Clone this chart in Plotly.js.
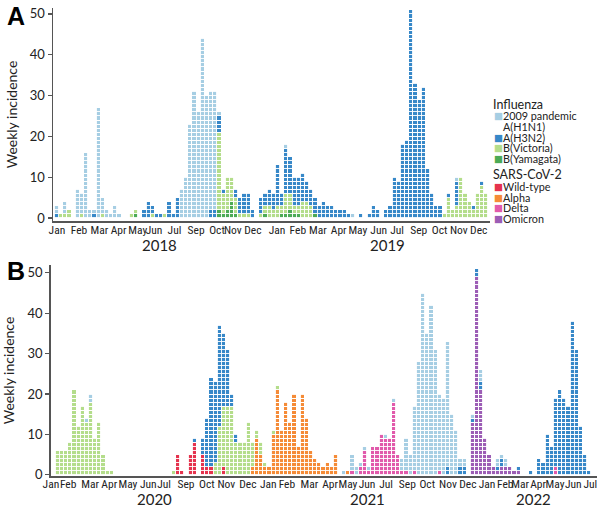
<!DOCTYPE html>
<html><head><meta charset="utf-8">
<script src="https://cdn.plot.ly/plotly-3.0.1.min.js"></script>
<style>html,body{margin:0;padding:0;background:#fff}#chart{width:600px;height:511px}</style>
</head><body><div id="chart"></div>
<script>
// ---------- Panel A: weekly counts, week 0 = first week of Jan 2018 (104 weeks) ----------
const aH1N1 = [2,0,3,0,0,7,5,16,2,1, 27,4,2,1,3,1,0,0,0,0, 0,0,0,0,0,0,0,0,0,0, 7,10,23,31,26,44,30,29,29,1,
  0,0,0,0,0,0,0,0,0,0, 0,0,0,0,0,1,0,0,0,0, 0,0,0,0,0,0,0,0,0,0, 0,1,0,0,0,0,0,0,0,0,
  0,0,0,0,0,0,0,0,0,0, 0,0,0,0,0,0,1,0,0,0, 0,0,0,0];
const aH3N2 = [1,0,0,0,0,0,0,0,0,1, 0,0,0,0,0,0,0,0,0,0, 0,2,4,2,1,1,0,4,1,5, 0,0,0,0,0,0,0,2,2,4,
  1,0,0,2,4,5,5,2,0,4, 3,4,4,10,3,11,9,7,7,7, 5,4,4,3,4,3,3,2,2,2, 1,0,0,1,0,1,3,2,0,2,
  3,10,9,18,19,51,33,29,32,12, 6,3,3,0,1,0,6,0,0,0, 1,0,1,0];
const aVictoria = [0,1,1,2,0,0,1,0,0,0, 0,1,0,0,0,0,0,0,1,1, 0,0,0,1,0,0,1,0,0,0, 0,0,0,0,0,0,0,0,0,19,
  5,8,6,4,1,1,1,0,0,1, 2,3,2,3,2,5,4,2,2,4, 4,3,0,0,0,0,0,0,0,0, 0,0,0,0,0,0,0,0,0,0,
  0,0,0,0,0,0,0,0,0,0, 0,0,0,1,5,2,3,10,6,4, 2,6,8,6];
const aYamagata = [0,0,0,0,0,0,0,0,0,0, 0,0,0,0,0,0,0,0,0,1, 0,0,0,0,0,0,0,0,0,0, 0,0,0,0,0,0,0,0,0,2,
  1,2,4,1,0,0,0,0,0,0, 1,0,0,0,1,1,2,1,1,0, 0,0,1,0,0,0,0,0,0,0, 0,0,0,0,0,0,0,0,0,0,
  0,0,0,0,0,0,0,0,0,0, 0,0,0,0,0,0,0,0,0,0, 0,0,0,0];

// ---------- Panel B: weekly counts, week 0 = first week of Jan 2020 (131 weeks) ----------
const Z10 = [0,0,0,0,0,0,0,0,0,0];
const bH1N1 = [0,0,0,0,0,0,0,0,0,1, 2,0,0,0,0,0,0,0,0,0, ...Z10, ...Z10, ...Z10, ...Z10, ...Z10,
  0,1,0,4,2,1,1,1,0,0, 0,1,0,1,0,3,8,5,16,28, 45,35,42,31,19,19,31,15,11,2,
  2,0,1,0,3,0,0,0,2,1, 2,0,0,0,0,0,0,0,0,0, 0,0,0,0,0,0,0,0,0,0,0];
const bH3N2 = [...Z10, ...Z10, ...Z10, 0,0,0,0,0,1,0,4,12,22, 20,25,18,14,3,2,0,0,0,0,
  ...Z10, ...Z10, ...Z10, ...Z10, 0,0,0,0,0,0,2,0,0,2,
  2,0,1,2,2,0,0,0,1,2, 0,0,0,1,0,0,1,0,4,3, 10,7,17,21,19,17,38,31,12,5,1];
const bVictoria = [0,0,6,6,6,8,21,12,17,13, 18,9,13,5,1,1,0,0,0,0, ...Z10, 1,0,0,0,0,0,0,0,0,0,
  3,12,15,17,17,8,8,8,13,6, 2,3,1,0,1,1,0,0,0,0, ...Z10, ...Z10, ...Z10, ...Z10, ...Z10, ...Z10, ...Z10, 0];
const bWildType = [...Z10, ...Z10, ...Z10, 0,5,1,0,5,8,0,5,2,2, 0,0,2,0,0,0,0,0,0,0,
  ...Z10, ...Z10, ...Z10, ...Z10, ...Z10, ...Z10, ...Z10, ...Z10, 0];
const bAlpha = [...Z10, ...Z10, ...Z10, ...Z10, 0,0,0,0,0,0,0,0,0,2,
  9,5,2,2,10,21,11,18,13,20, 7,20,14,6,4,3,2,3,2,5, 0,0,1,0,0,0,0,0,0,0,
  ...Z10, ...Z10, ...Z10, ...Z10, ...Z10, 0];
const bDelta = [...Z10, ...Z10, ...Z10, ...Z10, ...Z10, ...Z10, ...Z10,
  0,0,0,1,0,2,6,1,7,7, 10,9,9,18,5,1,1,0,1,0, 0,0,0,0,1,0,0,0,0,0,
  ...Z10, ...Z10, 0,0,2,0,0,0,0,0,0,0, 0];
const bOmicron = [...Z10, ...Z10, ...Z10, ...Z10, ...Z10, ...Z10, ...Z10, ...Z10, ...Z10, ...Z10,
  0,0,13,49,21,9,5,2,1,2, 2,2,1,1,0,0,0,0,0,0, ...Z10, 0];

// ---------- Tick labels ----------
const monthLabelsA = ['Jan','Feb','Mar','Apr','May','Jun','Jul','Sep','Oct','Nov','Dec',
  'Jan','Feb','Mar','Apr','May','Jun','Jul','Sep','Oct','Nov','Dec'];
const monthWeeksA = [0.1,5.4,10.3,14.9,19.5,23.4,28.3,33.5,38.5,42.3,47.1,
  52.9,57.9,62.7,67.7,72.3,77.3,81.7,86.9,91.9,96.5,101.3];
const monthLabelsB = ['Jan','Feb','Mar','Apr','May','Jun','Jul','Sep','Oct','Nov','Dec',
  'Jan','Feb','Mar','Apr','May','Jun','Jul','Sep','Oct','Nov','Dec',
  'Jan','Feb','Mar','Apr','May','Jun','Jul'];
const monthWeeksB = [0.45,4.6,9.9,14.5,19.0,23.9,27.7,33.0,38.0,42.7,47.9,
  52.8,57.3,62.7,67.7,72.0,76.6,81.2,86.3,91.1,96.1,100.9,
  105.5,109.9,113.5,117.8,121.9,126.3,130.4];
const yearsA = ['2018','2019'];
const yearWeeksA = [24.8,79.3];
const yearsB = ['2020','2021','2022'];
const yearWeeksB = [25.5,76.6,116.6];

// ---------- Styles ----------
const COL = {
  h1:'#a6cee3', h3:'#3788c8', vic:'#b4dd8b', yam:'#4caa55',
  wt:'#e5334e', alpha:'#f58b37', delta:'#e15aab', omi:'#9c5db5'
};

function expand(counts){
  const x=[], y=[];
  counts.forEach((n,i)=>{ for(let k=0;k<n;k++){ x.push(i); y.push(1);} });
  return {x,y};
}
function unitTrace(counts, color, xa, ya){
  const e = expand(counts);
  return {type:'bar', x:e.x, y:e.y, xaxis:xa, yaxis:ya, width:1,
    marker:{color:color, line:{color:'#ffffff', width:0.9}},
    hoverinfo:'skip', showlegend:false};
}

// stacking order bottom -> top
const traces = [
  unitTrace(aYamagata, COL.yam, 'x','y'),
  unitTrace(aVictoria, COL.vic, 'x','y'),
  unitTrace(aH3N2, COL.h3, 'x','y'),
  unitTrace(aH1N1, COL.h1, 'x','y'),
  unitTrace(bWildType, COL.wt, 'x2','y2'),
  unitTrace(bAlpha, COL.alpha, 'x2','y2'),
  unitTrace(bDelta, COL.delta, 'x2','y2'),
  unitTrace(bOmicron, COL.omi, 'x2','y2'),
  unitTrace(bVictoria, COL.vic, 'x2','y2'),
  unitTrace(bH3N2, COL.h3, 'x2','y2'),
  unitTrace(bH1N1, COL.h1, 'x2','y2')
];

const W=600, H=511;
const px = v => v/W, py = v => 1 - v/H;
const axisCol = '#555555';
const FONT = 'Lato, "Open Sans", "DejaVu Sans", sans-serif';
const NARROW = '"Liberation Sans Narrow", "Roboto Condensed", Lato, sans-serif';

function xAxis(dom, rng, tv, tt, anchor, standoff){
  return {domain:dom, range:rng, anchor:anchor, showgrid:false, zeroline:false,
    showline:true, linecolor:axisCol, linewidth:1.5, ticks:'', tickvals:tv, ticktext:tt,
    ticklabelstandoff:standoff,
    tickangle:0, tickfont:{family:NARROW, size:11.5, color:'#222'}, fixedrange:true};
}
function yAxis(dom, rng, anchor){
  return {domain:dom, range:rng, anchor:anchor, showgrid:false, zeroline:false,
    showline:true, linecolor:axisCol, linewidth:1.5, ticks:'outside', ticklen:4, tickwidth:1.2,
    tickcolor:axisCol, tickvals:[0,10,20,30,40,50], tickfont:{size:13, color:'#222'},
    title:{text:'Weekly incidence', font:{size:14, color:'#222'}, standoff:9}, fixedrange:true};
}

const annotations = [];
annotations.push({text:'<b>A</b>', xref:'paper', yref:'paper', x:px(16), y:py(16), xanchor:'center', yanchor:'middle',
  showarrow:false, font:{family:'"Liberation Sans", Arial, sans-serif', size:25, color:'#000'}});
annotations.push({text:'<b>B</b>', xref:'paper', yref:'paper', x:px(16), y:py(271), xanchor:'center', yanchor:'middle',
  showarrow:false, font:{family:'"Liberation Sans", Arial, sans-serif', size:25, color:'#000'}});
yearsA.forEach((t,i)=>annotations.push({text:t, xref:'x', yref:'paper', x:yearWeeksA[i], y:py(245),
  xanchor:'center', yanchor:'middle', showarrow:false, font:{size:15, color:'#222'}}));
yearsB.forEach((t,i)=>annotations.push({text:t, xref:'x2', yref:'paper', x:yearWeeksB[i], y:py(499),
  xanchor:'center', yanchor:'middle', showarrow:false, font:{size:15, color:'#222'}}));

// legend (custom, compact)
const legendRows = [
  {t:'Influenza', head:true},
  {t:'2009 pandemic', c:COL.h1},
  {t:'A(H1N1)'},
  {t:'A(H3N2)', c:COL.h3},
  {t:'B(Victoria)', c:COL.vic},
  {t:'B(Yamagata)', c:COL.yam},
  {t:'SARS-CoV-2', head:true, gap:true},
  {t:'Wild-type', c:COL.wt},
  {t:'Alpha', c:COL.alpha},
  {t:'Delta', c:COL.delta},
  {t:'Omicron', c:COL.omi}
];
let ly = 104;
legendRows.forEach((r,i)=>{
  if(i>0) ly += r.gap ? 16 : (legendRows[i-1].head ? 11.5 : 10.8);
  if(r.head){
    annotations.push({text:r.t, xref:'paper', yref:'paper', x:px(492), y:py(ly), xanchor:'left', yanchor:'middle',
      showarrow:false, borderpad:0, font:{size:12.5, color:'#222'}});
  } else {
    if(r.c) annotations.push({text:'■', xref:'paper', yref:'paper', x:px(493), y:py(ly), xanchor:'left', yanchor:'middle',
      showarrow:false, borderpad:0, font:{family:'"DejaVu Sans", sans-serif', size:9.5, color:r.c}});
    annotations.push({text:r.t, xref:'paper', yref:'paper', x:px(502), y:py(ly), xanchor:'left', yanchor:'middle',
      showarrow:false, borderpad:0, font:{size:10.8, color:'#222'}});
  }
});

const layout = {
  width:W, height:H, margin:{l:0,r:0,t:0,b:0}, paper_bgcolor:'#fff', plot_bgcolor:'#fff',
  barmode:'stack', bargap:0, showlegend:false,
  font:{family:FONT, color:'#222'},
  xaxis: xAxis([px(53), px(490)], [-0.84, 104.0], monthWeeksA, monthLabelsA, 'y', -2),
  yaxis: yAxis([py(221), py(8)], [-0.75, 51.45], 'x'),
  xaxis2: xAxis([px(50.7), px(597)], [0.4, 132.0], monthWeeksB, monthLabelsB, 'y2', -3),
  yaxis2: yAxis([py(476), py(265)], [-0.3, 51.95], 'x2'),
  annotations: annotations
};

Plotly.newPlot('chart', traces, layout, {staticPlot:true, displayModeBar:false});
</script>
</body></html>
